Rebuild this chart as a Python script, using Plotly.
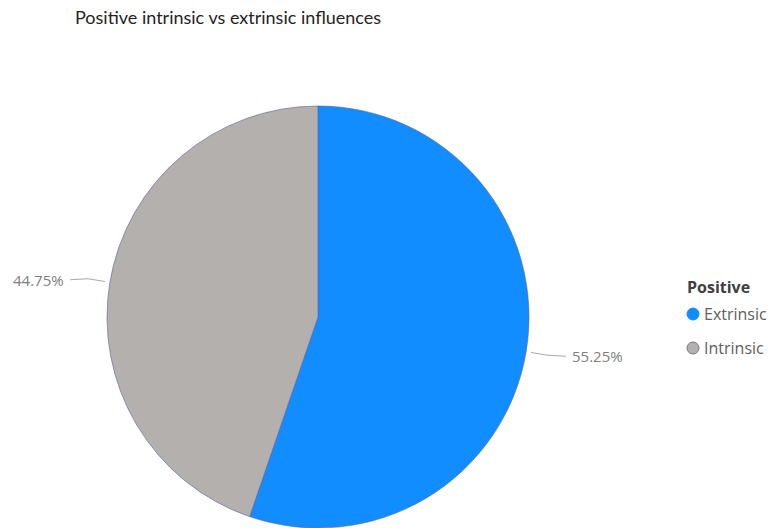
import math
import plotly.graph_objects as go

# Data
categories = ["Extrinsic", "Intrinsic"]
values = [55.25, 44.75]
colors = ["#118DFF", "#B3B0AD"]
marker_edges = ["#118DFF", "#7A7876"]
title_text = "Positive intrinsic vs extrinsic influences"
legend_title = "Positive"

W, H = 770, 528
cx, cy, r = 318, 317, 211  # pie centre and radius in pixels


def px(x):
    return x / W


def py(y):
    return 1 - y / H


fig = go.Figure()
fig.add_trace(go.Pie(
    labels=categories,
    values=values,
    sort=False,
    direction="clockwise",
    rotation=0,
    marker=dict(colors=colors, line=dict(color="#5E5E9E", width=0.6)),
    textinfo="none",
    hoverinfo="label+percent",
    showlegend=False,
    domain=dict(x=[px(cx - r), px(cx + r)], y=[py(cy + r), py(cy - r)]),
))

shapes = []
annotations = []

# Outside percentage labels with leader lines
total = sum(values)
start = 0.0
for v in values:
    mid = (start + v / 2) / total * 2 * math.pi
    start += v
    sx, sy = math.sin(mid), -math.cos(mid)
    p0 = (cx + sx * (r + 5), cy + sy * (r + 5))
    p1 = (cx + sx * (r + 22), cy + sy * (r + 22))
    side = 1 if sx > 0 else -1
    p2 = (p1[0] + side * 18, p1[1] + 1)
    for a, b in ((p0, p1), (p1, p2)):
        shapes.append(dict(type="line", xref="paper", yref="paper",
                           x0=px(a[0]), y0=py(a[1]), x1=px(b[0]), y1=py(b[1]),
                           line=dict(color="#A8A8A8", width=1)))
    annotations.append(dict(
        x=px(p2[0] + side * 4), y=py(p2[1]), xref="paper", yref="paper",
        text=f"{v:.2f}%", showarrow=False,
        xanchor="left" if side > 0 else "right", yanchor="middle",
        font=dict(family="Open Sans, sans-serif", size=15, color="#808080"),
    ))

# Chart title
annotations.append(dict(
    x=px(73), y=py(17), xref="paper", yref="paper", text=title_text,
    showarrow=False, xanchor="left", yanchor="middle",
    font=dict(family="Lato, sans-serif", size=18, color="#252423"),
))

# Legend: title, circle markers and labels
annotations.append(dict(
    x=px(685), y=py(287), xref="paper", yref="paper", text=f"<b>{legend_title}</b>",
    showarrow=False, xanchor="left", yanchor="middle",
    font=dict(family="Open Sans, sans-serif", size=16, color="#404040"),
))
for i, (name, col, edge) in enumerate(zip(categories, colors, marker_edges)):
    yc = 314 + i * 34
    shapes.append(dict(type="circle", xref="paper", yref="paper",
                       x0=px(687), x1=px(699), y0=py(yc + 6), y1=py(yc - 6),
                       fillcolor=col, line=dict(color=edge, width=1)))
    annotations.append(dict(
        x=px(702), y=py(yc), xref="paper", yref="paper", text=name,
        showarrow=False, xanchor="left", yanchor="middle",
        font=dict(family="Open Sans, sans-serif", size=16, color="#605E5C"),
    ))

fig.update_layout(
    width=W, height=H,
    margin=dict(l=0, r=0, t=0, b=0, autoexpand=False),
    paper_bgcolor="white", plot_bgcolor="white",
    showlegend=False,
    shapes=shapes, annotations=annotations,
)

fig.write_html("out.html")
